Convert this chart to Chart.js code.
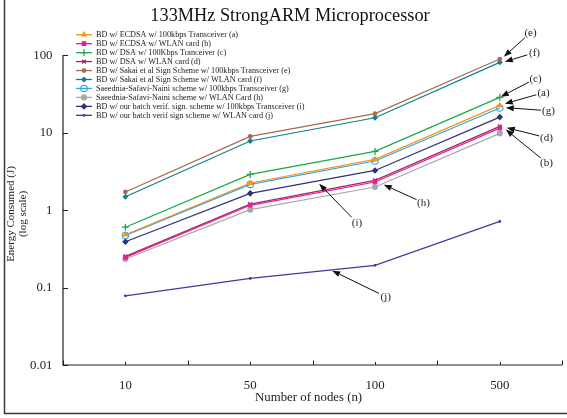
<!DOCTYPE html>
<html>
<head>
<meta charset="utf-8">
<script src="https://cdn.jsdelivr.net/npm/chart.js@4/dist/chart.umd.min.js"></script>
<style>
html,body{margin:0;padding:0;background:#fff;}
#wrap{width:567px;height:418px;position:relative;}
</style>
</head>
<body>
<div id="wrap"><canvas id="c" width="567" height="418"></canvas></div>
<script>
// ---- data ----
const titleText = '133MHz StrongARM Microprocessor';
const xTitle = 'Number of nodes (n)';
const yTitle1 = 'Energy Consumed (J)';
const yTitle2 = '(log scale)';
const nodeLabels = ['10', '50', '100', '500'];
const yTickValues = [0.01, 0.1, 1, 10, 100];
const yTickLabels = ['0.01', '0.1', '1', '10', '100'];

const seriesNames = [
  'BD w/ ECDSA w/ 100kbps Transceiver (a)',
  'BD w/ ECDSA w/ WLAN card (b)',
  'BD w/ DSA w/ 100Kbps Tranceiver (c)',
  'BD w/ DSA w/ WLAN card (d)',
  'BD w/ Sakai et al Sign Scheme w/ 100kbps Transceiver (e)',
  'BD w/ Sakai et al Sign Scheme w/ WLAN card (f)',
  'Saeednia-Safavi-Naini scheme w/ 100kbps Transceiver (g)',
  'Saeednia-Safavi-Naini scheme w/ WLAN Card (h)',
  'BD w/ our batch verif. sign. scheme w/ 100kbps Transceiver (i)',
  'BD w/ our batch verif sign scheme w/ WLAN card (j)'
];
const seriesA = [0.48, 2.23, 4.50, 22.4];
const seriesB = [0.245, 1.15, 2.30, 11.4];
const seriesC = [0.60, 2.88, 5.70, 28.4];
const seriesD = [0.252, 1.19, 2.41, 12.0];
const seriesE = [1.71, 8.9, 17.5, 88.8];
const seriesF = [1.48, 7.77, 15.5, 80.3];
const seriesG = [0.47, 2.14, 4.29, 20.7];
const seriesH = [0.233, 1.01, 1.98, 9.74];
const seriesI = [0.39, 1.64, 3.24, 15.8];
const seriesJ = [0.078, 0.131, 0.193, 0.713];

// annotation letters with label / arrow-tip in data space [xIndex, value]
const annLetters = ['(e)', '(f)', '(c)', '(a)', '(g)', '(d)', '(b)', '(h)', '(i)', '(j)'];
const annLabelAt = [[3.246, 194], [3.278, 107], [3.286, 49.4], [3.350, 32.6], [3.390, 19.1], [3.374, 8.57], [3.374, 4.08], [2.388, 1.24], [1.855, 0.686], [2.086, 0.076]];
const annTipAt = [[3.032, 95], [3.040, 82], [3.008, 29.0], [3.040, 23.5], [3.048, 20.9], [3.056, 11.5], [3.048, 10.9], [2.070, 2.12], [1.553, 2.18], [1.657, 0.165]];

// ---- styles ----
const allSeries = [seriesA, seriesB, seriesC, seriesD, seriesE, seriesF, seriesG, seriesH, seriesI, seriesJ];
const colors = ['#F7941D', '#EC1C8C', '#1BA84A', '#9C2A6A', '#A86A4E', '#0E8290', '#2AA7E0', '#A8A8A8', '#2E3180', '#3C3CA0'];
const styles = ['triangle', 'rect', 'cross', 'crossRot', 'circle', 'rectRot', 'circle', 'circle', 'rectRot', 'circle'];
const radii = [2.6, 2.5, 3.5, 2.6, 1.8, 2.2, 3.2, 2.5, 2.5, 0.9];
const filled = [true, true, true, true, true, true, false, true, true, true];
const SERIF = '"Liberation Serif", "DejaVu Serif", serif';

const datasets = allSeries.map((s, k) => ({
  label: seriesNames[k],
  data: s.map((v, i) => ({x: i, y: v})),
  borderColor: colors[k],
  backgroundColor: filled[k] ? colors[k] : 'rgba(0,0,0,0)',
  pointBorderColor: colors[k],
  pointBackgroundColor: filled[k] ? colors[k] : 'rgba(0,0,0,0)',
  pointStyle: styles[k],
  pointRadius: radii[k],
  pointHoverRadius: radii[k],
  pointBorderWidth: (styles[k] === 'cross' || styles[k] === 'crossRot') ? 1.3 : 1.1,
  borderWidth: 1.2,
  tension: 0,
  fill: false
}));

function drawMarker(ctx, k, x, y) {
  const opts = {pointStyle: styles[k], radius: radii[k], rotation: 0, borderWidth: (styles[k] === 'cross' || styles[k] === 'crossRot') ? 1.3 : 1.1};
  ctx.save();
  ctx.strokeStyle = colors[k];
  ctx.fillStyle = filled[k] ? colors[k] : 'rgba(0,0,0,0)';
  ctx.lineWidth = opts.borderWidth;
  if (Chart.helpers && Chart.helpers.drawPoint) {
    Chart.helpers.drawPoint(ctx, opts, x, y);
  } else {
    ctx.beginPath(); ctx.arc(x, y, radii[k], 0, Math.PI * 2); ctx.fill(); ctx.stroke();
  }
  ctx.restore();
}

const decorPlugin = {
  id: 'decor',
  afterDraw(chart) {
    const ctx = chart.ctx;
    const xs = chart.scales.x, ys = chart.scales.y;
    const area = chart.chartArea;
    ctx.save();
    // outer frame (left and bottom)
    ctx.strokeStyle = '#3a3a3a';
    ctx.lineWidth = 1.5;
    ctx.beginPath();
    ctx.moveTo(4.5, 0); ctx.lineTo(4.5, 413.5); ctx.lineTo(567, 413.5);
    ctx.stroke();

    // axes
    ctx.strokeStyle = '#222';
    ctx.lineWidth = 1.2;
    ctx.beginPath();
    ctx.moveTo(area.left, area.top); ctx.lineTo(area.left, area.bottom); ctx.lineTo(area.right, area.bottom);
    ctx.stroke();
    // y ticks (inward)
    ctx.lineWidth = 1;
    yTickValues.forEach(v => {
      const py = Math.round(ys.getPixelForValue(v)) + 0.5;
      ctx.beginPath(); ctx.moveTo(area.left, py); ctx.lineTo(area.left + 5, py); ctx.stroke();
    });
    // x ticks (inward), every half category
    for (let t = -0.5; t <= 3.5001; t += 0.5) {
      const px = Math.round(xs.getPixelForValue(t)) + 0.5;
      const len = Number.isInteger(t) ? 3 : 4.5;
      ctx.beginPath(); ctx.moveTo(px, area.bottom); ctx.lineTo(px, area.bottom - len); ctx.stroke();
    }

    // tick labels
    ctx.fillStyle = '#222';
    ctx.font = '12.8px ' + SERIF;
    ctx.textBaseline = 'middle';
    ctx.textAlign = 'right';
    yTickValues.forEach((v, i) => {
      ctx.fillText(yTickLabels[i], area.left - 10.5, ys.getPixelForValue(v) + 0.5);
    });
    ctx.textAlign = 'center';
    nodeLabels.forEach((lab, i) => {
      ctx.fillText(lab, xs.getPixelForValue(i), area.bottom + 21);
    });
    // axis titles
    ctx.fillText(xTitle, (area.left + area.right) / 2 - 4, area.bottom + 33);
    ctx.save();
    ctx.translate(11, 214);
    ctx.rotate(-Math.PI / 2);
    ctx.font = '11px ' + SERIF;
    ctx.fillText(yTitle1, 0, 0);
    ctx.fillText(yTitle2, 0, 12);
    ctx.restore();

    // title
    ctx.font = '18.3px ' + SERIF;
    ctx.fillStyle = '#111';
    ctx.fillText(titleText, 290, 16);

    // legend
    ctx.font = '8.2px ' + SERIF;
    ctx.textAlign = 'left';
    seriesNames.forEach((name, k) => {
      const y = 34.7 + k * 8.96;
      ctx.strokeStyle = colors[k];
      ctx.lineWidth = 1.3;
      ctx.beginPath(); ctx.moveTo(76, y); ctx.lineTo(92, y); ctx.stroke();
      drawMarker(ctx, k, 84, y);
      ctx.fillStyle = '#222';
      ctx.fillText(name, 96, y + 0.5);
    });

    // annotations
    ctx.font = '11px ' + SERIF;
    ctx.textAlign = 'center';
    annLetters.forEach((txt, k) => {
      const lx = xs.getPixelForValue(annLabelAt[k][0]);
      const ly = ys.getPixelForValue(annLabelAt[k][1]);
      const tx = xs.getPixelForValue(annTipAt[k][0]);
      const ty = ys.getPixelForValue(annTipAt[k][1]);
      ctx.fillStyle = '#222';
      ctx.fillText(txt, lx, ly);
      const dx = tx - lx, dy = ty - ly;
      const d = Math.hypot(dx, dy);
      const ux = dx / d, uy = dy / d;
      const sx = lx + ux * 7.5, sy = ly + uy * 7.5;
      const hl = 8, hw = 3;
      const bx = tx - ux * hl, by = ty - uy * hl;
      ctx.strokeStyle = '#111';
      ctx.lineWidth = 1;
      ctx.beginPath(); ctx.moveTo(sx, sy); ctx.lineTo(bx, by); ctx.stroke();
      ctx.fillStyle = '#111';
      ctx.beginPath();
      ctx.moveTo(tx, ty);
      ctx.lineTo(bx - uy * hw, by + ux * hw);
      ctx.lineTo(bx + uy * hw, by - ux * hw);
      ctx.closePath(); ctx.fill();
    });
    ctx.restore();
  }
};

new Chart(document.getElementById('c'), {
  type: 'line',
  data: {datasets},
  options: {
    responsive: false,
    animation: false,
    devicePixelRatio: 1,
    layout: {padding: {left: 63, right: 1, top: 55, bottom: 53}},
    plugins: {legend: {display: false}, title: {display: false}, tooltip: {enabled: false}},
    scales: {
      x: {type: 'linear', min: -0.5, max: 3.5, display: false},
      y: {type: 'logarithmic', min: 0.01, max: 100, display: false}
    }
  },
  plugins: [decorPlugin]
});
</script>
</body>
</html>
